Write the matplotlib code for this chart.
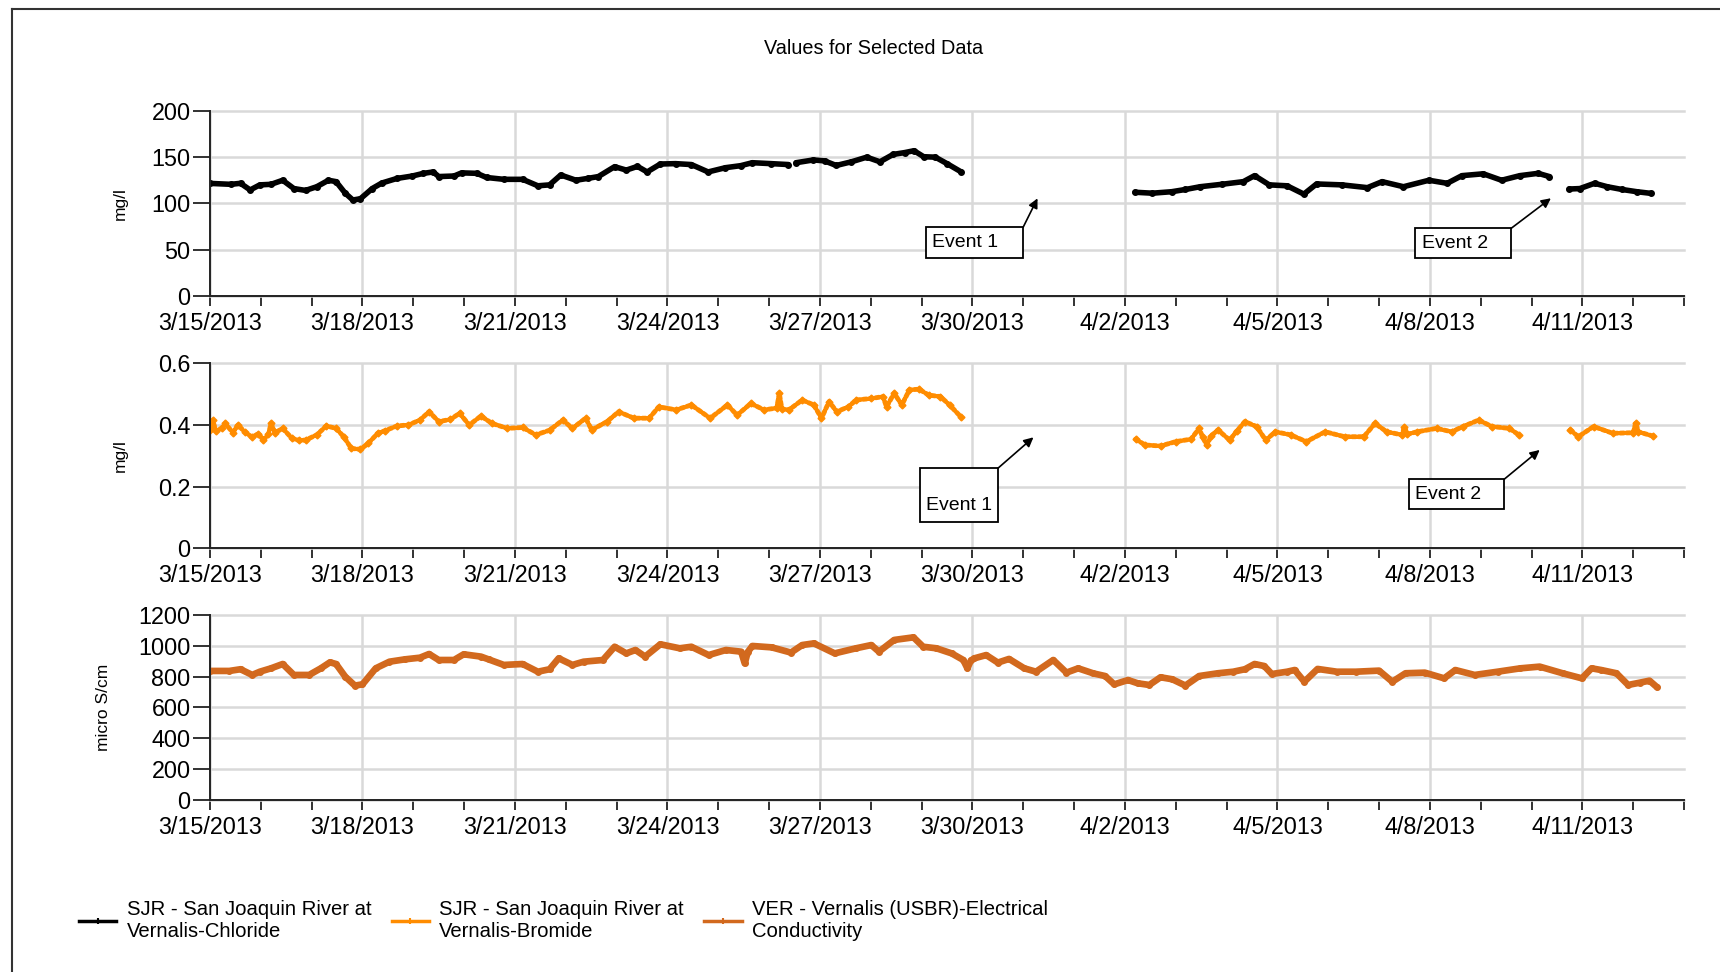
import numpy as np
import matplotlib
matplotlib.use("Agg")
import matplotlib.pyplot as plt
import matplotlib.dates as mdates
from matplotlib.lines import Line2D
from matplotlib.patches import Rectangle
from matplotlib.ticker import FuncFormatter
from datetime import datetime

plt.rcParams["font.family"] = ["Liberation Sans", "DejaVu Sans"]

nan = np.nan

# days since 3/15/2013 00:00 (nan = gap in record)
chl_day = [0, 0.41, 0.6, 0.79, 0.98, 1.2, 1.43, 1.65, 1.88, 2.1,
           2.33, 2.48, 2.66, 2.81, 2.96, 3.19, 3.38, 3.68, 3.98, 4.2,
           4.39, 4.5, 4.8, 4.95, 5.25, 5.44, 5.78, 6.15, 6.45, 6.68,
           6.9, 7.2, 7.43, 7.64, 7.96, 8.19, 8.41, 8.6, 8.86, 9.16,
           9.47, 9.8, 10.14, 10.44, 10.67, 11.04, 11.38, 11.45, 11.53, 11.87,
           12.09, 12.32, 12.62, 12.92, 13.18, 13.44, 13.67, 13.85, 14.04, 14.27,
           14.5, 14.78, 16.5, 18.2, 18.54, 18.92, 19.19, 19.48, 19.9, 20.33,
           20.55, 20.84, 21.19, 21.52, 21.77, 22.27, 22.77, 23.06, 23.48, 23.98,
           24.34, 24.63, 25.05, 25.41, 25.77, 26.13, 26.35, 26.55, 26.74, 26.95,
           27.24, 27.49, 27.78, 28.07, 28.35]
chl_val = [121.6, 120.6, 121.7, 114.5, 120, 120.6, 125, 116, 114, 118,
           125, 123.5, 111, 103.6, 105, 116, 122, 127, 129.6, 132.5,
           134, 129, 129.6, 133, 132.5, 128, 126, 126, 119, 120,
           130.7, 125, 127, 129, 139.7, 136, 140, 134, 142.6, 143,
           142, 134, 138.6, 140.8, 144, 143, 142, nan, 144, 147,
           146, 141, 145, 150, 145, 153, 155, 157, 150.5, 150,
           143, 134, nan, 112, 111, 112.6, 115, 118, 120.6, 123.5,
           130, 120, 119, 110, 121, 120, 117, 123.5, 118, 125,
           121.7, 130, 132, 125, 130, 132.5, 129, nan, 115.5, 116,
           121.7, 118, 115, 112.6, 110.8]

br_day = [0, 0.05, 0.12, 0.23, 0.3, 0.45, 0.55, 0.68, 0.83, 0.95,
          1.05, 1.15, 1.2, 1.28, 1.43, 1.61, 1.75, 1.88, 2.1, 2.29,
          2.48, 2.63, 2.78, 2.96, 3.11, 3.3, 3.45, 3.68, 3.9, 4.13,
          4.31, 4.5, 4.73, 4.91, 5.1, 5.33, 5.55, 5.85, 6.15, 6.41,
          6.68, 6.94, 7.13, 7.39, 7.51, 7.81, 8.04, 8.34, 8.64, 8.83,
          9.17, 9.47, 9.84, 10.18, 10.37, 10.64, 10.9, 11.15, 11.2, 11.25,
          11.39, 11.65, 11.88, 12.03, 12.18, 12.33, 12.56, 12.71, 13.01, 13.24,
          13.31, 13.46, 13.61, 13.76, 13.95, 14.14, 14.37, 14.55, 14.78, 16.5,
          18.21, 18.4, 18.7, 19.0, 19.3, 19.46, 19.53, 19.61, 19.7, 19.83,
          20.06, 20.2, 20.36, 20.59, 20.77, 20.96, 21.26, 21.57, 21.94, 22.32,
          22.7, 22.92, 23.15, 23.45, 23.5, 23.55, 23.75, 24.13, 24.43, 24.65,
          24.96, 25.22, 25.56, 25.75, 26.2, 26.76, 26.92, 27.22, 27.6, 28.0,
          28.05, 28.1, 28.39]
br_val = [0.385, 0.415, 0.38, 0.39, 0.405, 0.375, 0.4, 0.378, 0.36, 0.372,
          0.351, 0.37, 0.405, 0.375, 0.389, 0.357, 0.35, 0.351, 0.368, 0.397,
          0.389, 0.362, 0.324, 0.321, 0.34, 0.373, 0.382, 0.397, 0.4, 0.416,
          0.443, 0.411, 0.418, 0.438, 0.4, 0.429, 0.405, 0.389, 0.392, 0.368,
          0.383, 0.416, 0.389, 0.422, 0.384, 0.411, 0.443, 0.422, 0.422, 0.459,
          0.449, 0.465, 0.422, 0.465, 0.432, 0.47, 0.449, 0.455, 0.503, 0.452,
          0.449, 0.481, 0.465, 0.422, 0.476, 0.443, 0.459, 0.481, 0.486, 0.492,
          0.459, 0.503, 0.465, 0.514, 0.516, 0.497, 0.492, 0.465, 0.425, nan,
          0.354, 0.335, 0.332, 0.346, 0.354, 0.389, 0.36, 0.335, 0.365, 0.384,
          0.351, 0.38, 0.411, 0.395, 0.351, 0.378, 0.368, 0.346, 0.378, 0.362,
          0.362, 0.405, 0.378, 0.368, 0.395, 0.37, 0.378, 0.389, 0.378, 0.395,
          0.416, 0.395, 0.389, 0.368, nan, 0.384, 0.362, 0.395, 0.373, 0.375,
          0.407, 0.378, 0.364]

ec_day = [0, 0.38, 0.6, 0.83, 0.98, 1.2, 1.43, 1.65, 1.95, 2.18,
          2.36, 2.48, 2.66, 2.85, 3.0, 3.26, 3.53, 3.83, 4.13, 4.31,
          4.5, 4.8, 4.99, 5.33, 5.48, 5.78, 6.15, 6.45, 6.68, 6.86,
          7.13, 7.35, 7.73, 7.96, 8.19, 8.37, 8.56, 8.86, 9.24, 9.47,
          9.81, 10.15, 10.45, 10.52, 10.58, 10.67, 11.05, 11.43, 11.65, 11.88,
          12.29, 12.71, 13.01, 13.16, 13.46, 13.84, 14.03, 14.29, 14.59, 14.82,
          14.9, 14.97, 15.04, 15.27, 15.5, 15.72, 16.02, 16.25, 16.59, 16.85,
          17.08, 17.38, 17.61, 17.79, 18.06, 18.25, 18.48, 18.7, 18.93, 19.19,
          19.46, 19.83, 20.13, 20.36, 20.55, 20.74, 20.89, 21.19, 21.34, 21.53,
          21.79, 22.17, 22.54, 23.0, 23.26, 23.52, 23.9, 24.28, 24.5, 24.88,
          25.33, 25.78, 26.16, 26.61, 26.99, 27.18, 27.37, 27.67, 27.9, 28.13,
          28.32, 28.47]
ec_val = [837, 837, 848, 811, 832, 854, 882, 811, 811, 854,
          893, 882, 800, 742, 750, 854, 897, 912, 923, 947,
          908, 908, 945, 930, 912, 876, 882, 832, 848, 919,
          876, 897, 908, 994, 951, 973, 930, 1010, 984, 994,
          940, 973, 962, 886, 960, 999, 990, 956, 1005, 1016,
          951, 984, 1005, 962, 1038, 1055, 994, 984, 951, 908,
          854, 905, 919, 940, 891, 915, 854, 832, 908, 826,
          854, 821, 804, 750, 778, 757, 746, 796, 783, 742,
          804, 822, 832, 848, 882, 869, 817, 832, 843, 767,
          850, 832, 832, 839, 767, 822, 826, 789, 843, 811,
          832, 854, 865, 822, 789, 854, 843, 822, 746, 761,
          774, 731]

labels = ["SJR - San Joaquin River at\nVernalis-Chloride",
          "SJR - San Joaquin River at\nVernalis-Bromide",
          "VER - Vernalis (USBR)-Electrical\nConductivity"]
colors = ["black", "#ff8c00", "#d2691e"]

base = mdates.date2num(datetime(2013, 3, 15))


def date_label(v, pos):
    d = mdates.num2date(v)
    return f"{d.month}/{d.day}/{d.year}"


def style(ax, yticks, ylabels, ylabel, labx):
    ax.set_xlim(base, base + 29)
    ax.set_ylim(yticks[0], yticks[-1])
    ax.set_yticks(yticks)
    ax.set_yticklabels(ylabels)
    ax.set_xticks(base + np.arange(0, 28, 3))
    ax.set_xticks(base + np.arange(0, 30), minor=True)
    ax.xaxis.set_major_formatter(FuncFormatter(date_label))
    ax.grid(True, which="major", color="#d9d9d9", lw=1.8)
    ax.set_axisbelow(True)
    for s in ["top", "right"]:
        ax.spines[s].set_visible(False)
    for s in ["left", "bottom"]:
        ax.spines[s].set_linewidth(1.4)
        ax.spines[s].set_color("#222222")
    ax.tick_params(axis="y", length=12, width=1.3, labelsize=16.8, pad=2, color="#222222")
    ax.tick_params(axis="x", which="both", length=7, width=1.3, labelsize=16.8, pad=4.5,
                   color="#222222")
    ax.set_ylabel(ylabel, fontsize=12.5)
    ax.yaxis.set_label_coords(labx, 0.5)
    for gl in ax.get_ygridlines():
        gl.set_clip_on(False)


def event(ax, x0, x1, y0, y1, tx, ty, tip, text):
    ax.add_patch(Rectangle((base + x0, y0), x1 - x0, y1 - y0, fc="white", ec="black", lw=1.3, zorder=5))
    ax.text(base + tx, ty, text, fontsize=14, ha="left", va="center", zorder=6)
    ax.annotate("", xy=(base + tip[0], tip[1]), xytext=(base + x1, y1),
                arrowprops=dict(arrowstyle="-|>", color="black", lw=1.2, mutation_scale=14,
                                shrinkA=0, shrinkB=0), zorder=6)


fig = plt.figure(figsize=(17.2, 9.72), dpi=100)
ax1 = fig.add_axes([0.1221, 0.6958, 0.857, 0.19])
ax2 = fig.add_axes([0.1221, 0.4359, 0.857, 0.1903])
ax3 = fig.add_axes([0.1221, 0.1770, 0.857, 0.1903])

ax1.plot(base + np.array(chl_day), chl_val, color=colors[0], lw=4, solid_joinstyle="round",
         solid_capstyle="round", marker="o", ms=4)
ax2.plot(base + np.array(br_day), br_val, color=colors[1], lw=3.5, ls=(0, (0.7, 0.6)),
         dash_capstyle="round", marker="D", ms=3.5)
ax3.plot(base + np.array(ec_day), ec_val, color=colors[2], lw=4.8, solid_joinstyle="round",
         solid_capstyle="round", marker="o", ms=4)

style(ax1, [0, 50, 100, 150, 200], ["0", "50", "100", "150", "200"], "mg/l", -0.056)
style(ax2, [0, 0.2, 0.4, 0.6], ["0", "0.2", "0.4", "0.6"], "mg/l", -0.056)
style(ax3, [0, 200, 400, 600, 800, 1000, 1200],
      ["0", "200", "400", "600", "800", "1000", "1200"], "micro S/cm", -0.067)

event(ax1, 14.09, 16.0, 40.8, 74.4, 14.21, 58, (16.28, 105.4), "Event 1")
event(ax1, 23.71, 25.6, 40.5, 73.0, 23.84, 57, (26.38, 105.5), "Event 2")
event(ax2, 13.97, 15.5, 0.0863, 0.2595, 14.09, 0.14, (16.2, 0.36), "Event 1")
event(ax2, 23.58, 25.46, 0.1284, 0.2238, 23.71, 0.176, (26.16, 0.319), "Event 2")

fig.text(0.5076, 0.9506, "Values for Selected Data", fontsize=14.3, ha="center", va="center")

handles = [Line2D([], [], color=c, lw=2.5, marker="|", ms=5, mew=1.5) for c in colors]
fig.legend(handles, labels, ncol=3, loc="center left", bbox_to_anchor=(0.0459, 0.053),
           frameon=False, fontsize=14.6, handlelength=1.85, handletextpad=0.5,
           columnspacing=1.0, borderpad=0, borderaxespad=0, labelspacing=0)

# outer frame (top and left edges only visible)
fig.add_artist(Line2D([0.007, 1.0], [0.9907, 0.9907], color="#333333", lw=1.5))
fig.add_artist(Line2D([0.007, 0.007], [0.0, 0.9907], color="#333333", lw=1.5))

fig.savefig("out.png", dpi=100)
